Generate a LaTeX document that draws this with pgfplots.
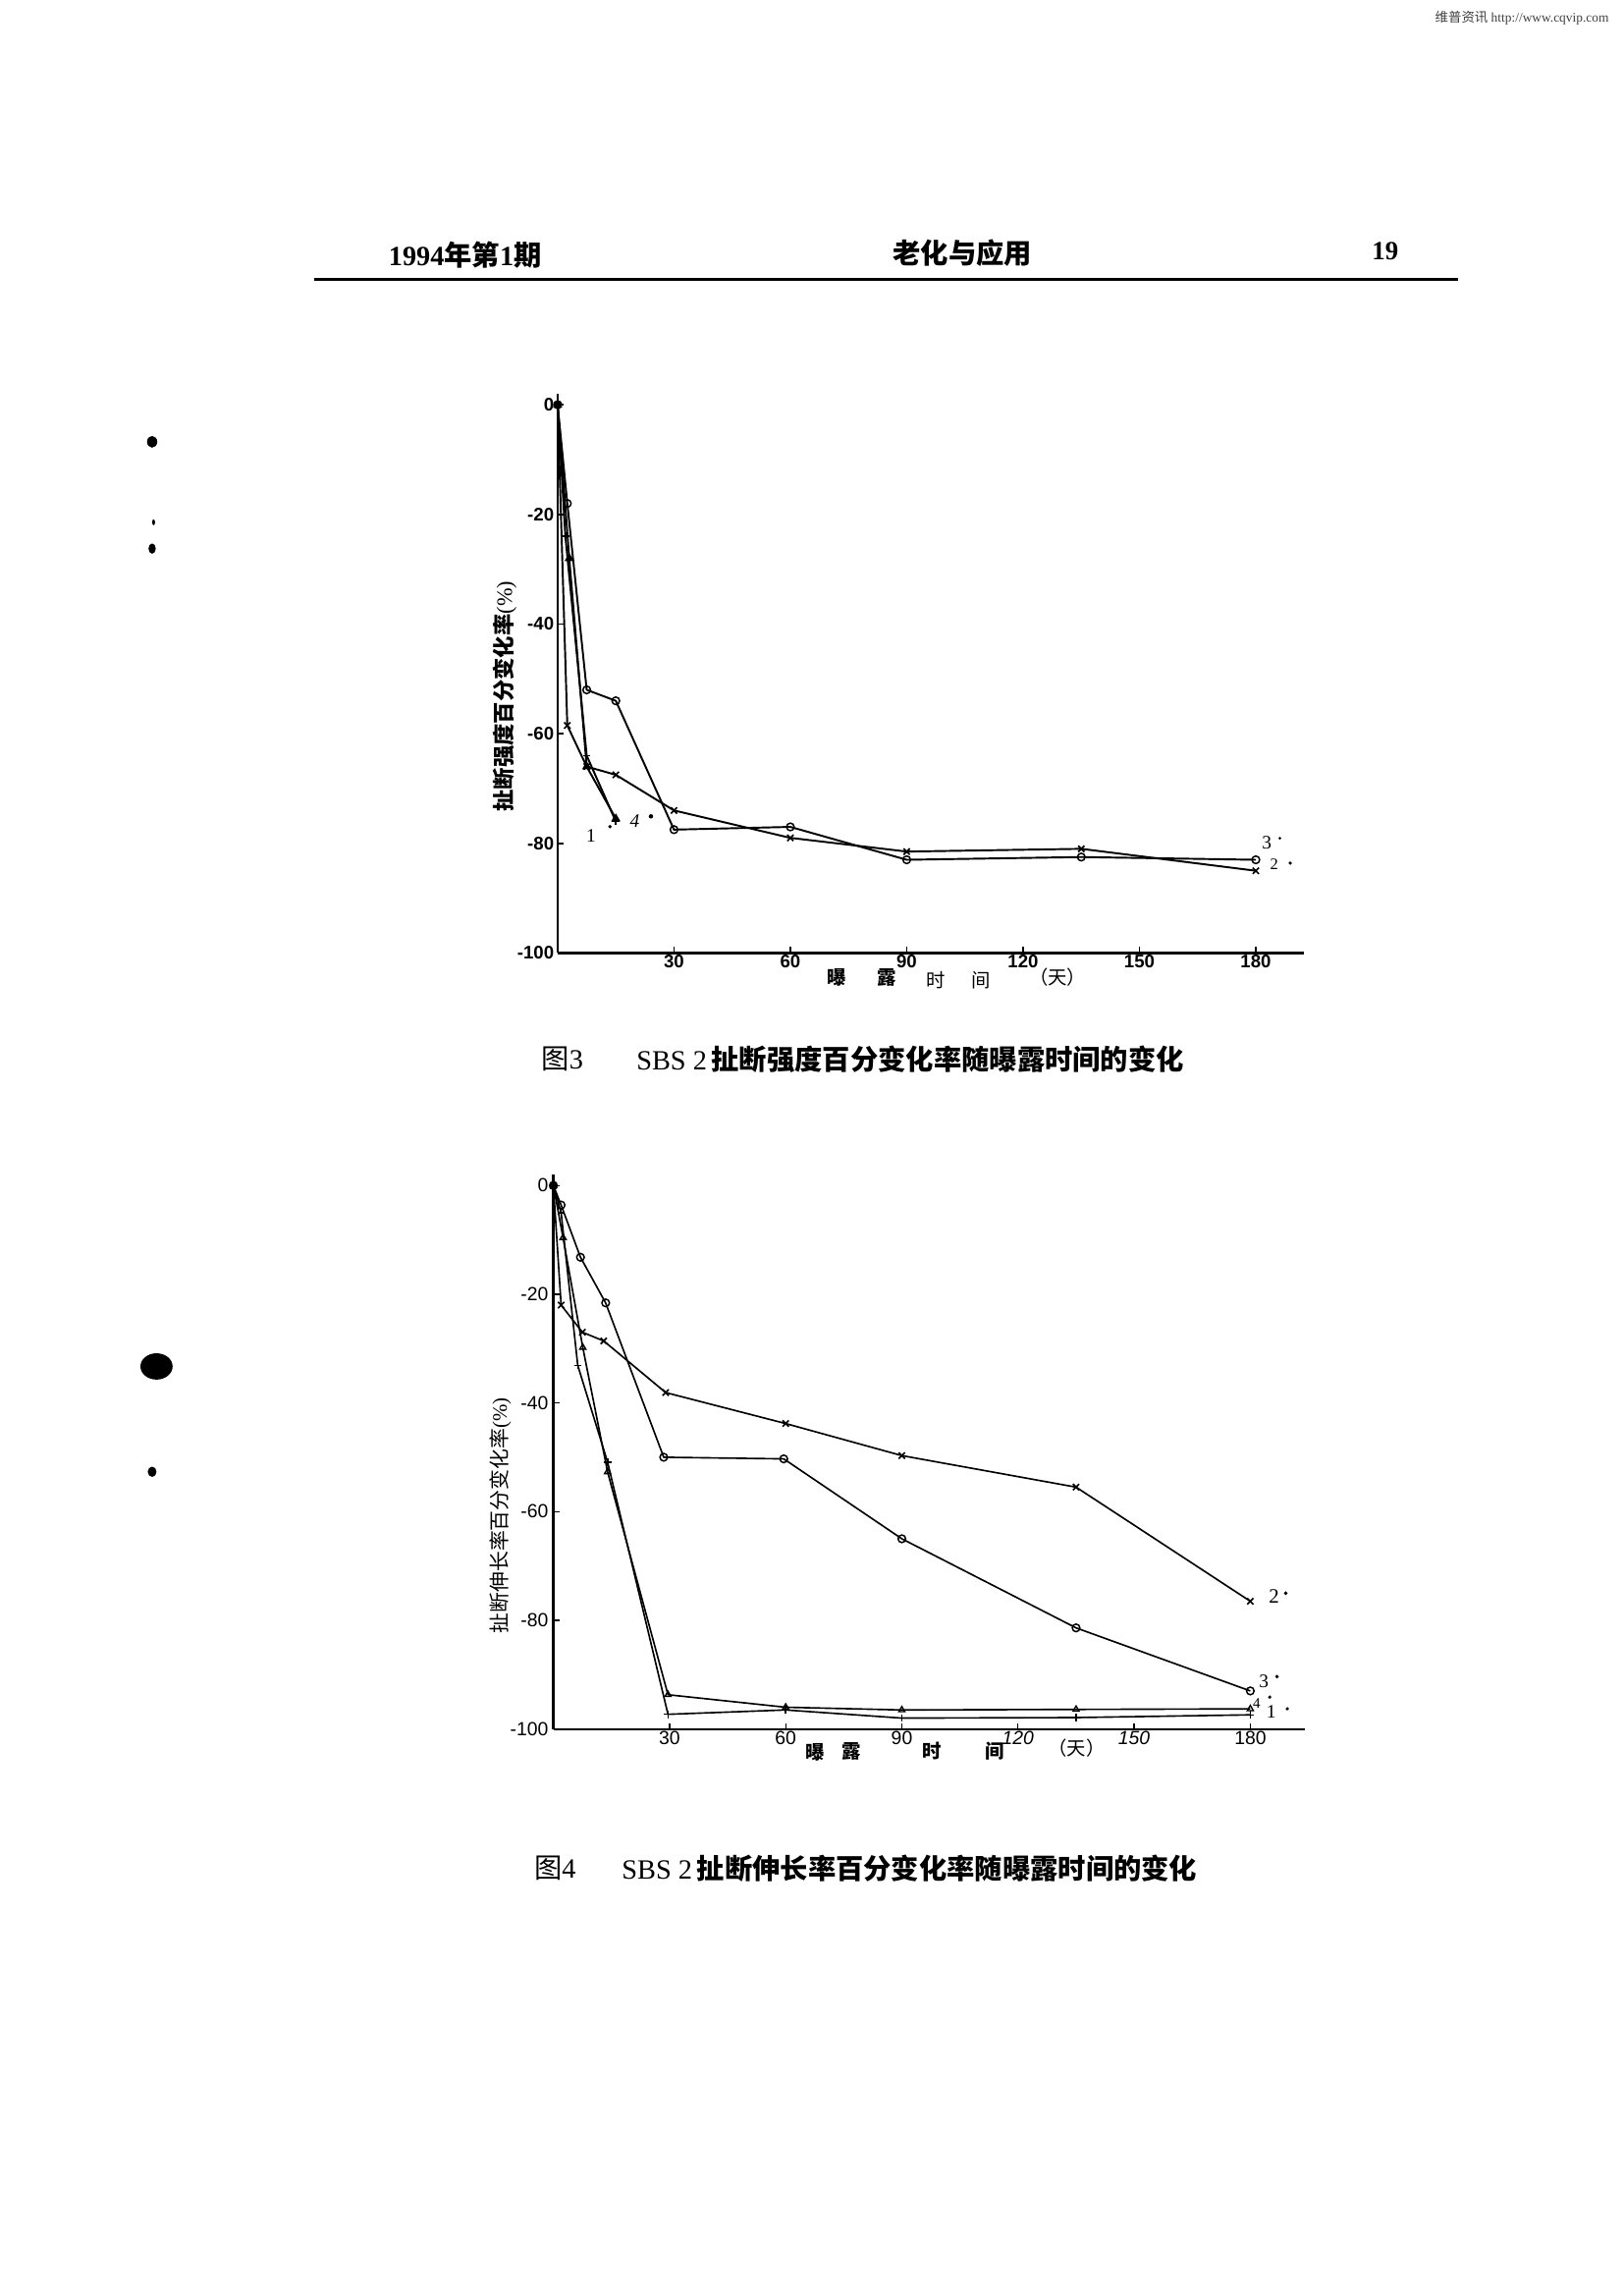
\documentclass[border=0pt]{standalone}
\usepackage{pgfplots}
\pgfplotsset{compat=1.18}
\usepackage{fontspec}
\setmainfont{Liberation Serif}
\newfontfamily\cjk{Noto Sans CJK SC}
\newfontfamily\sans{Liberation Sans}
\newcommand{\fs}[1]{\fontsize{#1}{#1}\selectfont}
\begin{document}
\begin{tikzpicture}[x=1pt,y=1pt]
\useasboundingbox (0,0) rectangle (1110,1568);
\fill[white] (0,0) rectangle (1110,1568);
% scan specks
\fill[black] (107,634) ellipse (11 and 9);
\fill[black] (104,1266) ellipse (3.5 and 4);
\fill[black] (104,1193) ellipse (2.5 and 3.5);
\fill[black] (105,1211) ellipse (1 and 2);
\fill[black] (104,562) ellipse (3 and 3.5);
% watermark
\node[anchor=east,inner sep=0pt,text=black!75] at (1100,1556) {\fs{9}{\cjk 维普资讯} http://www.cqvip.com};
% header
\node[inner sep=0pt] at (318,1394) {\fs{19}\bfseries 1994{\cjk\bfseries 年第}1{\cjk\bfseries 期}};
\node[inner sep=0pt] at (658,1395) {\fs{19}\cjk\bfseries 老化与应用};
\node[inner sep=0pt] at (947,1396) {\fs{18}\bfseries 19};
\draw[line width=2.4pt] (215,1377) -- (997,1377);
% captions
\node[anchor=west,inner sep=0pt] at (370,844) {\fs{19}{\cjk 图}3};
\node[anchor=west,inner sep=0pt] at (435,844) {\fs{19}SBS 2\,{\cjk\bfseries 扯断强度百分变化率随曝露时间的变化}};
\node[anchor=west,inner sep=0pt] at (365,291) {\fs{19}{\cjk 图}4};
\node[anchor=west,inner sep=0pt] at (425,291) {\fs{19}SBS 2\,{\cjk\bfseries 扯断伸长率百分变化率随曝露时间的变化}};
% axis titles chart 1
\node[inner sep=0pt] at (572,900) {\fs{13}\cjk\bfseries 曝};
\node[inner sep=0pt] at (606,900) {\fs{13}\cjk\bfseries 露};
\node[inner sep=0pt] at (640,898) {\fs{13}\cjk 时};
\node[inner sep=0pt] at (671,898) {\fs{13}\cjk 间};
\node[inner sep=0pt] at (723,900) {\fs{13}\cjk （天）};
\node[inner sep=0pt,rotate=90] at (345,1092) {\fs{15}{\cjk\bfseries 扯断强度百分变化率}(\%)};
% axis titles chart 2
\node[inner sep=0pt] at (557,370) {\fs{13}\cjk\bfseries 曝};
\node[inner sep=0pt] at (582,371) {\fs{13}\cjk\bfseries 露};
\node[inner sep=0pt] at (637,371) {\fs{13}\cjk\bfseries 时};
\node[inner sep=0pt] at (680,371) {\fs{13}\cjk\bfseries 间};
\node[inner sep=0pt] at (736,373) {\fs{13}\cjk （天）};
\node[inner sep=0pt,rotate=90] at (342,532) {\fs{14}{\cjk 扯断伸长率百分变化率}(\%)};
% series labels chart 1
\node[inner sep=0pt] at (404,997) {\fs{13}1};
\fill (417,1003) circle (1.3);
\node[inner sep=0pt] at (434,1007) {\fs{13}\itshape 4};
\fill (445,1010) circle (1.5);
\node[inner sep=0pt] at (866,992) {\fs{13}3};
\fill (875,995) circle (1);
\node[inner sep=0pt] at (871,977) {\fs{11}2};
\fill (882,978) circle (1.2);
% series labels chart 2
\node[inner sep=0pt] at (871,477) {\fs{14}2};
\fill (879,479) circle (1.3);
\node[inner sep=0pt] at (864,419) {\fs{13}3};
\fill (873,422) circle (1.3);
\node[inner sep=0pt] at (859,404) {\fs{10}4};
\fill (868,408) circle (1.2);
\node[inner sep=0pt] at (869,398) {\fs{13}1};
\fill (880,400) circle (1.2);
% ---------------- chart 1 ----------------
\begin{axis}[
  at={(381.2pt,916.6pt)}, anchor=south west,
  scale only axis, width=510.2pt, height=382.2pt,
  xmin=0, xmax=192.4, ymin=-100, ymax=2,
  axis x line*=bottom, axis y line*=left,
  axis line style={line width=1.6pt,-},
  xtick={30,60,90,120,150,180}, xticklabels={30,60,90,120,150,180},
  ytick={-100,-80,-60,-40,-20,0}, yticklabels={-100,-80,-60,-40,-20,0},
  tick align=inside, major tick length=4pt,
  tick style={line width=1pt,black},
  xticklabel style={font=\sans\bfseries\fs{12.5}, yshift=2pt},
  yticklabel style={font=\sans\bfseries\fs{12.5}, xshift=1pt},
  clip=false,
]
\addplot[line width=1.3pt, mark=o, mark size=2.6pt, mark options={solid,fill=white,line width=1pt}]
  coordinates {(0,0)(2.5,-18)(7.5,-52)(15,-54)(30,-77.5)(60,-77)(90,-83)(135,-82.5)(180,-83)};
\addplot[line width=1.3pt, mark=x, mark size=3pt, mark options={solid,line width=1.1pt}]
  coordinates {(0,0)(2.5,-58.5)(7.5,-66)(15,-67.5)(30,-74)(60,-79)(90,-81.5)(135,-81)(180,-85)};
\addplot[line width=1.3pt, mark=+, mark size=2.6pt, mark options={solid,line width=1pt}]
  coordinates {(0,0)(2,-24)(7.5,-64)(15,-76)};
\addplot[line width=1.3pt, mark=triangle*, mark size=2.4pt, mark options={solid}]
  coordinates {(0,0)(3,-28)(7.5,-66)(15,-75.5)};
\end{axis}
% ---------------- chart 2 ----------------
\begin{axis}[
  at={(378.3pt,386.2pt)}, anchor=south west,
  scale only axis, width=513.5pt, height=378.9pt,
  xmin=0, xmax=194, ymin=-100, ymax=2,
  axis x line*=bottom, axis y line*=left,
  axis line style={line width=1.5pt,-},
  xtick={30,60,90,120,150,180}, xticklabels={30,60,90,\textit{120},\textit{150},180},
  ytick={-100,-80,-60,-40,-20,0}, yticklabels={-100,-80,-60,-40,-20,0},
  tick align=inside, major tick length=4pt,
  tick style={line width=0.9pt,black},
  xticklabel style={font=\sans\fs{13}, yshift=2pt},
  yticklabel style={font=\sans\fs{13}},
  clip=false,
]
\addplot[line width=1.1pt, mark=o, mark size=2.6pt, mark options={solid,fill=white,line width=1pt}]
  coordinates {(0,0)(2,-3.6)(7,-13.2)(13.5,-21.6)(28.5,-50)(59.5,-50.3)(90,-65)(135,-81.4)(180,-93)};
\addplot[line width=1.1pt, mark=x, mark size=3pt, mark options={solid,line width=1.1pt}]
  coordinates {(0,0)(2,-22)(7.5,-27)(13,-28.6)(29,-38.1)(60,-43.8)(90,-49.7)(135,-55.5)(180,-76.5)};
\addplot[line width=1.1pt, mark=triangle, mark size=2.4pt, mark options={solid,fill=white,line width=0.9pt}]
  coordinates {(0,0)(2.5,-9.6)(7.6,-29.8)(14,-52.7)(29.6,-93.7)(60,-96)(90,-96.5)(135,-96.4)(180,-96.3)};
\addplot[line width=1.1pt, mark=+, mark size=2.6pt, mark options={solid,line width=1pt}]
  coordinates {(0,0)(2,-5)(6.3,-33.1)(14,-50.9)(29.6,-97.3)(60,-96.5)(90,-98)(135,-97.9)(180,-97.4)};
\end{axis}
\end{tikzpicture}
\end{document}
